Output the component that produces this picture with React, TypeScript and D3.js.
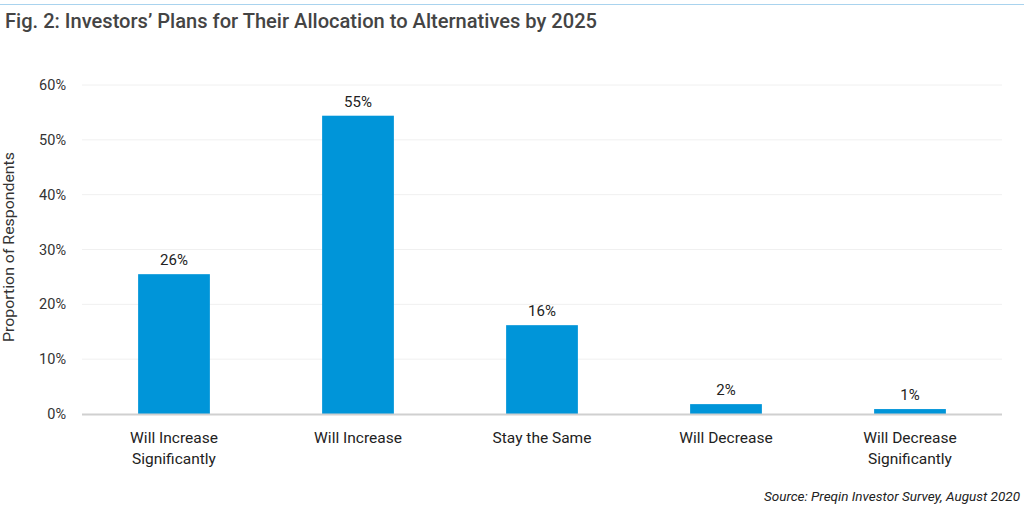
import React from "react";
import * as d3 from "d3";

const categories: string[][] = [
  ["Will Increase", "Significantly"],
  ["Will Increase"],
  ["Stay the Same"],
  ["Will Decrease"],
  ["Will Decrease", "Significantly"],
];
const values: number[] = [25.5, 54.4, 16.2, 1.8, 0.9];
const valueLabels: string[] = ["26%", "55%", "16%", "2%", "1%"];
const yTicks: number[] = [0, 10, 20, 30, 40, 50, 60];

const W = 1024;
const H = 512;
const font = "Roboto, 'Open Sans', sans-serif";

export default function App() {
  const x = d3
    .scaleBand<number>()
    .domain(categories.map((_, i) => i))
    .range([82, 1002])
    .paddingInner(0.61)
    .paddingOuter(0.305);
  const y = d3.scaleLinear().domain([0, 60]).range([414, 85]);

  return (
    <svg
      width={W}
      height={H}
      style={{ position: "absolute", left: 0, top: 0, background: "#fff" }}
      fontFamily={font}
    >
      <line x1={0} x2={W} y1={4.5} y2={4.5} stroke="#a9d3ee" strokeWidth={1} />
      <text x={5} y={28} fontSize={20} fontWeight={500} fill="#444" textLength={592} lengthAdjust="spacingAndGlyphs">
        Fig. 2: Investors’ Plans for Their Allocation to Alternatives by 2025
      </text>

      {yTicks.map((t) => (
        <g key={t}>
          {t > 0 && (
            <line x1={82} x2={1002} y1={y(t)} y2={y(t)} stroke="#f0f0f0" strokeWidth={1} />
          )}
          <text x={66} y={y(t)} dy="0.35em" textAnchor="end" fontSize={14.5} fill="#333">
            {t}%
          </text>
        </g>
      ))}

      <text
        transform={`translate(13.5, 247) rotate(-90)`}
        textAnchor="middle"
        fontSize={15}
        fill="#333"
        textLength={190}
        lengthAdjust="spacingAndGlyphs"
      >
        Proportion of Respondents
      </text>

      {values.map((v, i) => (
        <g key={i}>
          <rect
            x={x(i)}
            y={y(v)}
            width={x.bandwidth()}
            height={y(0) - y(v)}
            fill="#0095d9"
          />
          <text
            x={(x(i) as number) + x.bandwidth() / 2}
            y={y(v) - 9}
            textAnchor="middle"
            fontSize={15}
            fill="#222"
          >
            {valueLabels[i]}
          </text>
        </g>
      ))}

      <line x1={82} x2={1002} y1={414.5} y2={414.5} stroke="#d0d0d0" strokeWidth={2} />

      {categories.map((lines, i) => (
        <text
          key={i}
          x={(x(i) as number) + x.bandwidth() / 2}
          y={443}
          textAnchor="middle"
          fontSize={15.5}
          fill="#222"
        >
          {lines.map((l, j) => (
            <tspan key={j} x={(x(i) as number) + x.bandwidth() / 2} dy={j === 0 ? 0 : 21}>
              {l}
            </tspan>
          ))}
        </text>
      ))}

      <text x={1020} y={501} textAnchor="end" fontSize={13.5} fontStyle="italic" fill="#222">
        Source: Preqin Investor Survey, August 2020
      </text>
    </svg>
  );
}
